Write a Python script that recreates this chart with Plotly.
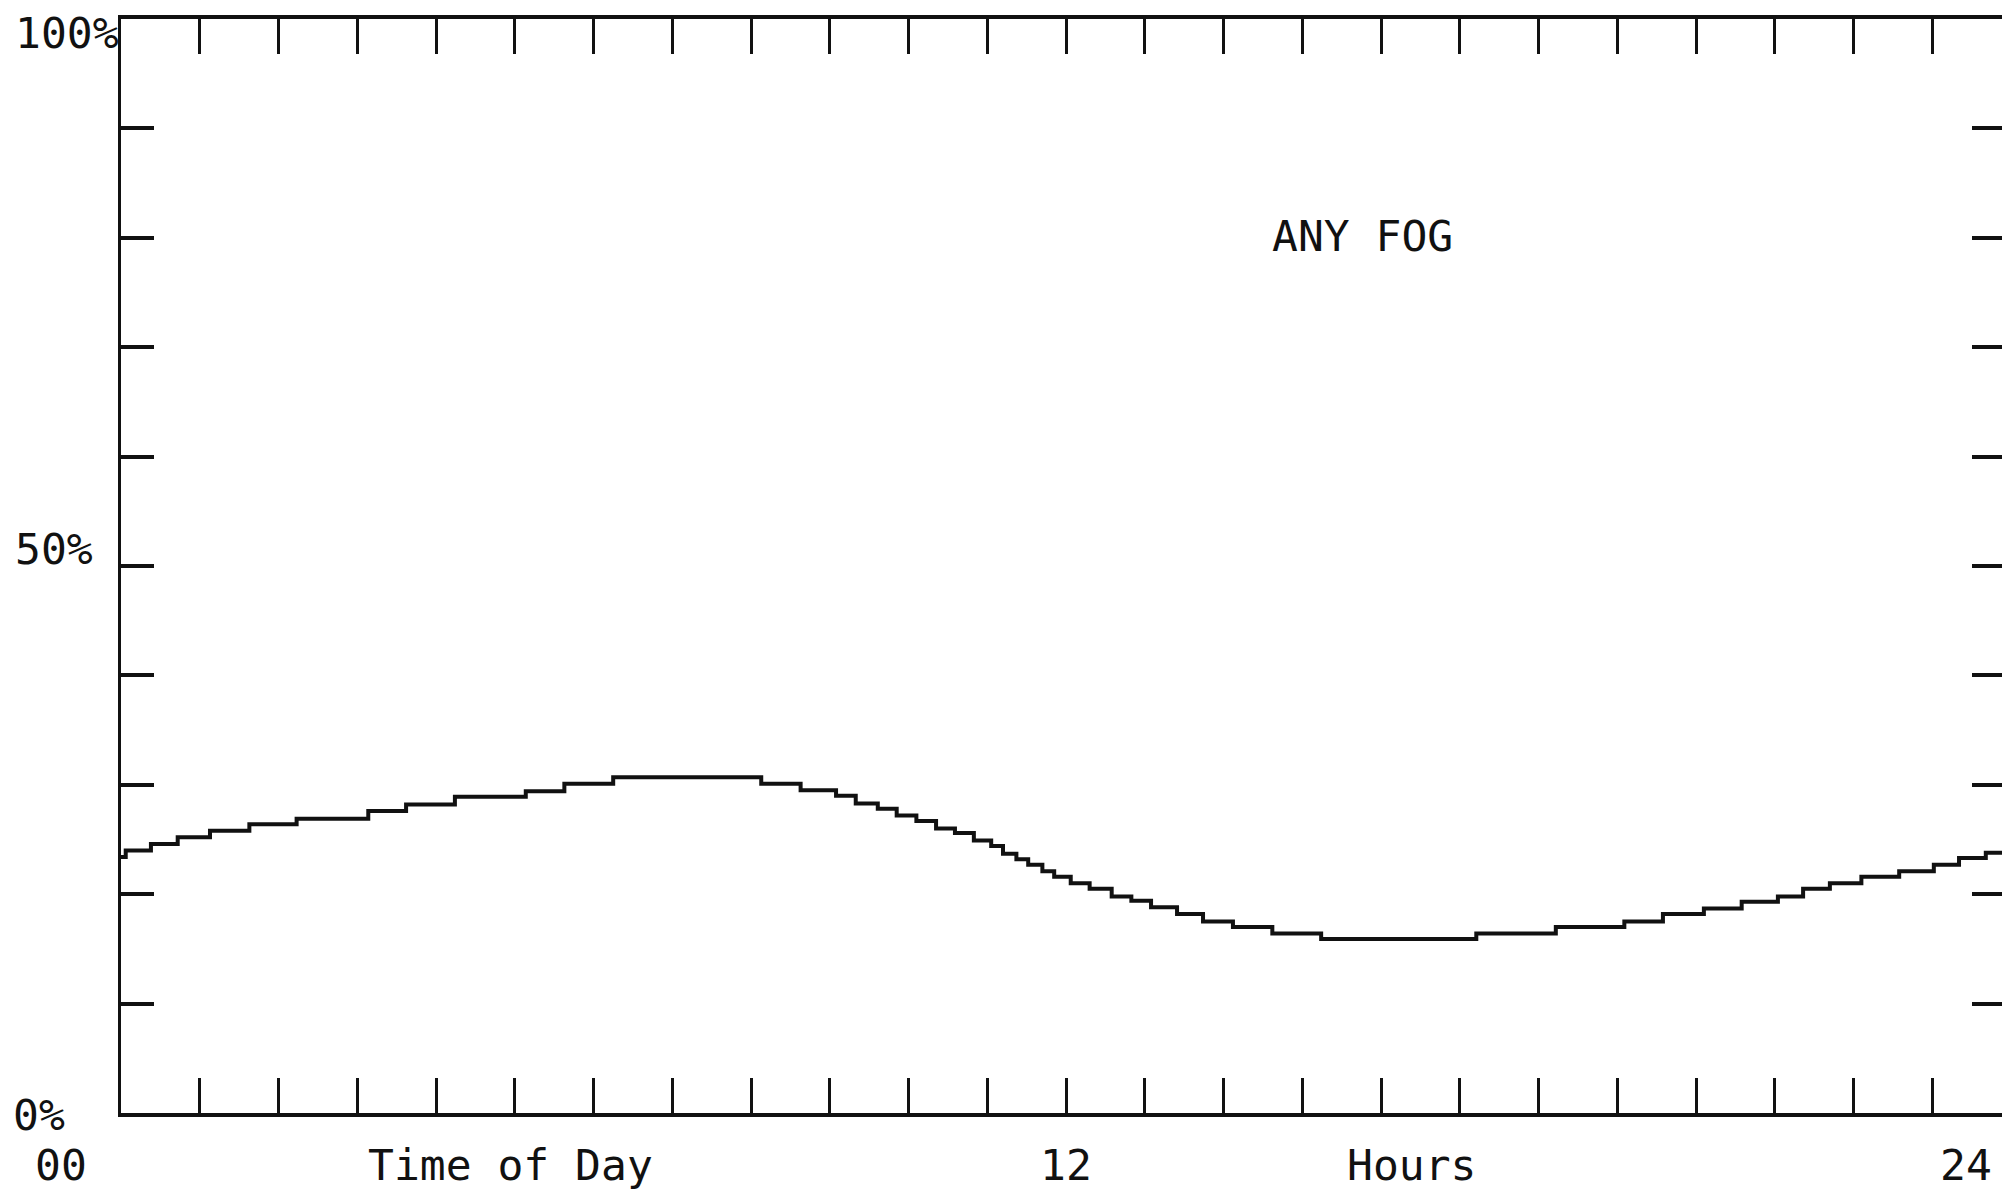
import plotly.graph_objects as go

# Step start times (hours) and fog frequency (%)
step_hours = [0.00, 0.06, 0.38, 0.72, 1.13, 1.63, 2.23, 3.14, 3.62, 4.24,
              5.14, 5.63, 6.25, 8.13, 8.63, 9.08, 9.33, 9.61, 9.85, 10.10,
              10.35, 10.59, 10.83, 11.05, 11.20, 11.37, 11.52, 11.70, 11.85, 12.06,
              12.30, 12.58, 12.83, 13.08, 13.41, 13.74, 14.12, 14.62, 15.24, 17.21,
              18.22, 19.09, 19.58, 20.10, 20.58, 21.04, 21.36, 21.70, 22.10, 22.58,
              23.02, 23.34, 23.68, 24.00]
fog_pct = [23.4, 24.0, 24.6, 25.2, 25.8, 26.4, 26.9, 27.6, 28.2, 28.9,
           29.4, 30.1, 30.7, 30.1, 29.5, 29.0, 28.3, 27.8, 27.2, 26.7,
           26.0, 25.6, 24.9, 24.4, 23.7, 23.2, 22.7, 22.1, 21.6, 21.0,
           20.5, 19.8, 19.4, 18.8, 18.2, 17.5, 17.0, 16.4, 15.9, 16.4,
           17.0, 17.5, 18.2, 18.7, 19.3, 19.8, 20.5, 21.0, 21.6, 22.1,
           22.7, 23.3, 23.8, 23.8]

x_tick_hours = list(range(0, 25))
y_tick_pct = list(range(0, 101, 10))

y_label_vals = [100, 50, 0]
y_label_text = ["100%", "50%", "0%"]
x_label_vals = [0, 4.95, 12, 16.39, 24]
x_label_text = ["00", "Time of Day", "12", "Hours", "24"]
title_text = "ANY FOG"

W, H = 2002, 1192
L, R, T, B = 121, 0, 19, 79
px_per_hour = 78.75
plot_w = W - L - R
x_max = plot_w / px_per_hour

FONT = "DejaVu Sans Mono, Liberation Mono, monospace"
INK = "#111111"
FS = 43

fig = go.Figure()
fig.add_trace(go.Scatter(
    x=step_hours, y=fog_pct, mode="lines", line_shape="hv",
    line=dict(color=INK, width=4), showlegend=False, hoverinfo="skip"))
# invisible trace to activate the right-hand y axis
fig.add_trace(go.Scatter(x=[0], y=[0], yaxis="y2", mode="markers",
                         marker=dict(opacity=0), showlegend=False, hoverinfo="skip"))

fig.update_layout(
    width=W, height=H, autosize=False,
    margin=dict(l=L, r=R, t=T, b=B, pad=0),
    paper_bgcolor="white", plot_bgcolor="white",
    font=dict(family=FONT, size=FS, color=INK),
    xaxis=dict(range=[0, x_max], tickvals=x_tick_hours, showticklabels=False,
               ticks="inside", ticklen=35, tickwidth=3, tickcolor=INK,
               showline=True, linewidth=4, linecolor=INK, mirror="ticks",
               showgrid=False, zeroline=False, fixedrange=True),
    yaxis=dict(range=[0, 100], tickvals=y_tick_pct, showticklabels=False,
               ticks="inside", ticklen=33, tickwidth=4, tickcolor=INK,
               showline=True, linewidth=3, linecolor=INK,
               showgrid=False, zeroline=False, fixedrange=True),
    yaxis2=dict(range=[0, 100], overlaying="y", side="right",
                tickvals=y_tick_pct, showticklabels=False,
                ticks="inside", ticklen=30, tickwidth=4, tickcolor=INK,
                showline=False, showgrid=False, zeroline=False, fixedrange=True),
)

annotations = []
y_shifts = [-14, 17, -2]
y_lefts = [13, 13, 11]
for v, t, s, lx in zip(y_label_vals, y_label_text, y_shifts, y_lefts):
    annotations.append(dict(x=(lx - L) / plot_w, xref="paper", xanchor="left",
                            y=v, yref="y", yanchor="middle", yshift=s,
                            text=t, showarrow=False,
                            font=dict(family=FONT, size=FS, color=INK)))
x_shifts = [-60, 0, 0, 0, -45]
for v, t, s in zip(x_label_vals, x_label_text, x_shifts):
    # position along the hour scale, converted to paper units so the
    # label at hour 24 (just past the cropped right edge) still shows
    xp = (v * px_per_hour + s) / plot_w
    annotations.append(dict(x=xp, xref="paper", xanchor="center",
                            y=0, yref="paper", yanchor="middle", yshift=-52,
                            text=t, showarrow=False,
                            font=dict(family=FONT, size=FS, color=INK)))
annotations.append(dict(x=15.76, xref="x", y=80.2, yref="y", text=title_text,
                        showarrow=False, xanchor="center", yanchor="middle",
                        font=dict(family=FONT, size=FS, color=INK)))
fig.update_layout(annotations=annotations)

fig.write_html("out.html", config={"displayModeBar": False},
               post_script="document.body.style.margin='0';document.body.style.overflow='hidden';")
